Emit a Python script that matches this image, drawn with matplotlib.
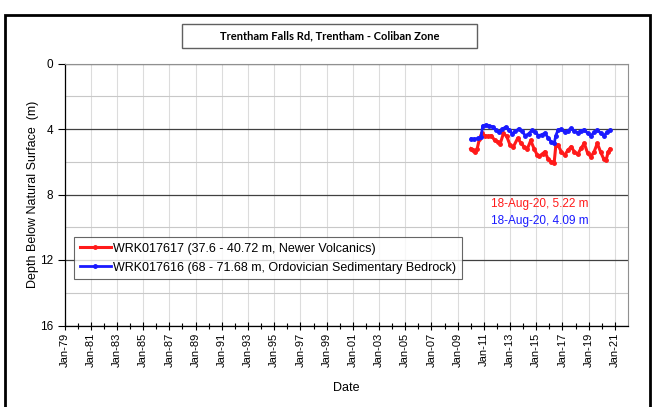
import matplotlib
matplotlib.use("Agg")
import matplotlib.pyplot as plt
import matplotlib.dates as mdates
from matplotlib.patches import Rectangle
from datetime import datetime

# ---- data ----
red_dates = ["2010-01-01","2010-03-01","2010-05-01","2010-07-01","2010-09-01","2010-11-01",
             "2011-02-01","2011-05-01","2011-08-01","2011-11-01","2012-02-01","2012-04-01",
             "2012-07-01","2012-10-01","2013-01-01","2013-04-01","2013-08-01","2013-11-01",
             "2014-02-01","2014-05-01","2014-08-01","2014-11-01","2015-02-01","2015-04-01",
             "2015-07-01","2015-09-01","2015-12-01","2016-03-01","2016-05-15","2016-07-01",
             "2016-09-01","2016-12-01","2017-03-01","2017-06-01","2017-09-01","2017-12-01",
             "2018-03-01","2018-06-01","2018-09-01","2018-12-01","2019-03-01","2019-06-01",
             "2019-09-01","2019-12-01","2020-03-01","2020-05-01","2020-07-01","2020-08-18"]
red_vals = [5.20,5.30,5.43,5.20,4.60,4.27,
            4.40,4.45,4.40,4.70,4.80,4.90,
            4.27,4.45,4.98,5.10,4.57,4.85,
            5.10,5.20,4.70,5.20,5.60,5.65,
            5.50,5.39,5.85,6.00,6.06,5.00,
            4.98,5.40,5.60,5.30,5.08,5.40,
            5.55,5.19,4.88,5.45,5.70,5.40,
            4.88,5.40,5.85,5.90,5.40,5.22]

blue_dates = ["2010-01-15","2010-04-15","2010-07-15","2010-10-15","2010-12-01","2011-03-01",
              "2011-06-01","2011-09-01","2011-12-01","2012-03-01","2012-06-01","2012-09-01",
              "2012-12-01","2013-03-01","2013-06-01","2013-09-01","2013-12-01","2014-03-01",
              "2014-06-01","2014-09-01","2014-12-01","2015-03-01","2015-06-01","2015-09-01",
              "2015-12-01","2016-03-01","2016-05-15","2016-07-01","2016-09-01","2016-12-01",
              "2017-03-01","2017-06-01","2017-09-01","2017-12-01","2018-03-01","2018-06-01",
              "2018-09-01","2018-12-01","2019-03-01","2019-06-01","2019-09-01","2019-12-01",
              "2020-03-01","2020-06-01","2020-08-18"]
blue_vals = [4.60,4.62,4.58,4.50,3.80,3.75,
             3.82,3.85,4.05,4.20,4.00,3.88,
             4.05,4.28,4.15,3.98,4.15,4.40,
             4.30,4.08,4.18,4.40,4.35,4.25,
             4.55,4.80,4.88,4.40,4.05,4.02,
             4.18,4.10,3.96,4.15,4.22,4.10,
             4.05,4.25,4.42,4.20,4.06,4.25,
             4.40,4.20,4.09]

red_label = "WRK017617 (37.6 - 40.72 m, Newer Volcanics)"
blue_label = "WRK017616 (68 - 71.68 m, Ordovician Sedimentary Bedrock)"
title = "Trentham Falls Rd, Trentham - Coliban Zone"
red_note = "18-Aug-20, 5.22 m"
blue_note = "18-Aug-20, 4.09 m"
y_ticks = [0, 4, 8, 12, 16]
x_tick_years = list(range(1979, 2022, 2))

red_d = [datetime.strptime(d, "%Y-%m-%d") for d in red_dates]
blue_d = [datetime.strptime(d, "%Y-%m-%d") for d in blue_dates]

plt.rcParams['font.family'] = ['Liberation Sans', 'DejaVu Sans']

fig = plt.figure(figsize=(6.54, 4.07), dpi=100)
W, H = 654, 407
left, right, top, bottom = 64.6, 627.5, 63.5, 325.5
ax = fig.add_axes([left / W, 1 - bottom / H, (right - left) / W, (bottom - top) / H])

red_c = "#ff1a1a"
blue_c = "#1a1aff"
ax.plot(red_d, red_vals, color=red_c, lw=2.2, marker='o', ms=2.5, label=red_label, zorder=4)
ax.plot(blue_d, blue_vals, color=blue_c, lw=2.0, marker='o', ms=2.5, label=blue_label, zorder=4)

ax.set_xlim(datetime(1979, 1, 1), datetime(2021, 12, 20))
ax.set_ylim(16, 0)
ax.set_yticks(y_ticks)
ax.set_yticks([2, 6, 10, 14], minor=True)

ax.set_xticks([datetime(y, 1, 1) for y in x_tick_years])
ax.set_xticks([datetime(y, 1, 1) for y in range(1980, 2022, 2)], minor=True)
ax.xaxis.set_major_formatter(mdates.DateFormatter("%b-%y"))
for lab in ax.get_xticklabels():
    lab.set_rotation(90)

ax.grid(which='major', axis='y', color='#404040', lw=0.9, zorder=1)
ax.grid(which='minor', axis='y', color='#c8c8c8', lw=0.8, zorder=1)
ax.grid(which='major', axis='x', color='#dcdcdc', lw=0.8, zorder=1)

ax.tick_params(axis='x', which='major', direction='inout', length=6, width=0.8, labelsize=8, pad=2)
ax.tick_params(axis='x', which='minor', direction='inout', length=4, width=0.8)
ax.tick_params(axis='y', which='major', direction='out', length=5, width=0.8, labelsize=8.5, pad=3)
ax.tick_params(axis='y', which='minor', length=0)

for s in ['top', 'right']:
    ax.spines[s].set_color('#909090')
for s in ['left', 'bottom']:
    ax.spines[s].set_color('black')
    ax.spines[s].set_linewidth(0.9)

ax.set_ylabel("Depth Below Natural Surface  (m)", fontsize=9, va='center')
ax.yaxis.set_label_coords((33 - left) / (right - left), 0.5)
ax.set_xlabel("Date", fontsize=9, va='center')
ax.xaxis.set_label_coords(0.5, -(388 - bottom) / (bottom - top))

ax.text(0.758, 0.465, red_note, transform=ax.transAxes, color=red_c, fontsize=8.5, ha='left', va='center')
ax.text(0.758, 0.40, blue_note, transform=ax.transAxes, color=blue_c, fontsize=8.5, ha='left', va='center')

leg = ax.legend(loc='upper left', bbox_to_anchor=((74 - left) / (right - left), 1 - (237 - top) / (bottom - top)),
                fontsize=9, frameon=True, fancybox=False, edgecolor='#404040', handlelength=2.5,
                handletextpad=0.2, borderpad=0.45, labelspacing=0.55, borderaxespad=0)
leg.get_frame().set_linewidth(0.8)
leg.set_zorder(5)

# title box
fig.text((182 + 477) / 2 / W, 1 - 36.3 / H, title, ha='center', va='center', fontsize=8,
         fontweight='bold', family=['Lato', 'DejaVu Sans'])
fig.patches.append(Rectangle((182 / W, 1 - 48.3 / H), (477 - 182) / W, 24 / H, transform=fig.transFigure,
                             fill=False, ec='#606060', lw=1.0))

# outer frame
fig.patches.append(Rectangle((5 / W, -0.05), (650 - 5) / W, 1.05 - 14.6 / H, transform=fig.transFigure,
                             fill=False, ec='black', lw=2.0))

fig.savefig("out.png", dpi=100)
